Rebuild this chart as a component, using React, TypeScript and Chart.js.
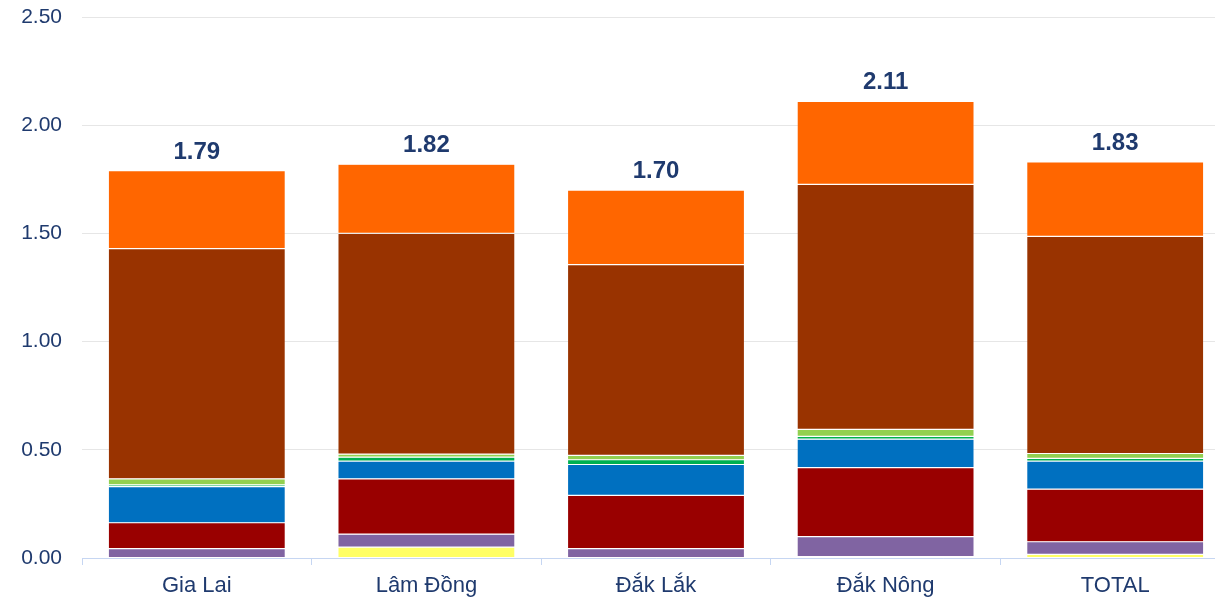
import React, { useEffect, useRef } from "react";
import { Chart, registerables } from "chart.js";

Chart.register(...registerables);

// Provinces on the category axis
const provinces = ["Gia Lai", "Lâm Đồng", "Đắk Lắk", "Đắk Nông", "TOTAL"];

// Stacked components, listed from the bottom of each bar upwards
const yellowPart = [0.0, 0.05, 0.0, 0.006, 0.017];
const purplePart = [0.043, 0.06, 0.043, 0.093, 0.058];
const darkRedPart = [0.12, 0.256, 0.246, 0.319, 0.243];
const bluePart = [0.167, 0.082, 0.143, 0.131, 0.13];
const greenPart = [0.008, 0.018, 0.022, 0.013, 0.012];
const lightGreenPart = [0.028, 0.014, 0.02, 0.032, 0.023];
const brownPart = [1.064, 1.02, 0.882, 1.133, 1.003];
const orangePart = [0.36, 0.32, 0.344, 0.383, 0.344];

// Y axis tick values
const yTicks = [0, 0.5, 1.0, 1.5, 2.0, 2.5];

const FONT = "'Liberation Sans', Arial, sans-serif";
const NAVY = "#1F3A6E";

const totalsPlugin = {
  id: "stackTotals",
  afterDatasetsDraw(chart: any) {
    const { ctx } = chart;
    const metaTop = chart.getDatasetMeta(chart.data.datasets.length - 1);
    ctx.save();
    ctx.font = `bold 24px ${FONT}`;
    ctx.fillStyle = NAVY;
    ctx.textAlign = "center";
    ctx.textBaseline = "alphabetic";
    chart.data.labels.forEach((_: any, i: number) => {
      let sum = 0;
      chart.data.datasets.forEach((ds: any) => {
        sum += ds.data[i];
      });
      const bar = metaTop.data[i];
      ctx.fillText(sum.toFixed(2), bar.x, bar.y - 12);
    });
    ctx.restore();
  },
};

export default function App() {
  const canvasRef = useRef<HTMLCanvasElement | null>(null);

  useEffect(() => {
    if (!canvasRef.current) return;
    const mk = (label: string, data: number[], color: string) => ({
      label,
      data,
      backgroundColor: color,
      borderColor: "rgba(255,255,255,0.25)",
      borderWidth: 0.6,
      borderSkipped: false,
      categoryPercentage: 1,
      barPercentage: 0.771,
    });
    const chart = new Chart(canvasRef.current, {
      type: "bar",
      data: {
        labels: provinces,
        datasets: [
          mk("Yellow", yellowPart, "#FFFF66"),
          mk("Purple", purplePart, "#8064A2"),
          mk("Dark red", darkRedPart, "#990000"),
          mk("Blue", bluePart, "#0070C0"),
          mk("Green", greenPart, "#00B050"),
          mk("Light green", lightGreenPart, "#92D050"),
          mk("Brown", brownPart, "#993300"),
          mk("Orange", orangePart, "#FF6600"),
        ],
      },
      options: {
        animation: false,
        responsive: false,
        layout: { padding: { top: 17, left: 0, right: 0, bottom: 0 } },
        plugins: {
          legend: { display: false },
          tooltip: { enabled: false },
        },
        scales: {
          x: {
            stacked: true,
            grid: {
              offset: true,
              drawOnChartArea: false,
              drawTicks: true,
              tickLength: 7,
              color: "#C6D6F2",
            },
            border: { display: true, color: "#C6D6F2", width: 1 },
            ticks: {
              color: NAVY,
              font: { family: FONT, size: 22 },
              padding: 8,
            },
            afterFit(scale: any) {
              scale.height = 42;
              scale.paddingLeft = 0;
              scale.paddingRight = 0;
            },
          },
          y: {
            stacked: true,
            min: 0,
            max: 2.5,
            afterBuildTicks(scale: any) {
              scale.ticks = yTicks.map((v) => ({ value: v }));
            },
            grid: {
              color: "#E6E6E6",
              drawTicks: false,
              lineWidth: 1,
            },
            border: { display: false },
            ticks: {
              color: NAVY,
              font: { family: FONT, size: 21 },
              padding: 20,
              callback: (v: any) => Number(v).toFixed(2),
            },
            afterFit(scale: any) {
              scale.width = 82;
              scale.paddingTop = 0;
              scale.paddingBottom = 0;
            },
          },
        },
      },
      plugins: [totalsPlugin],
    });
    return () => chart.destroy();
  }, []);

  return (
    <div
      style={{
        position: "fixed",
        left: 0,
        top: 0,
        width: 1215,
        height: 600,
        overflow: "hidden",
        background: "#ffffff",
      }}
    >
      <canvas ref={canvasRef} width={1230} height={600} style={{ display: "block" }} />
    </div>
  );
}
